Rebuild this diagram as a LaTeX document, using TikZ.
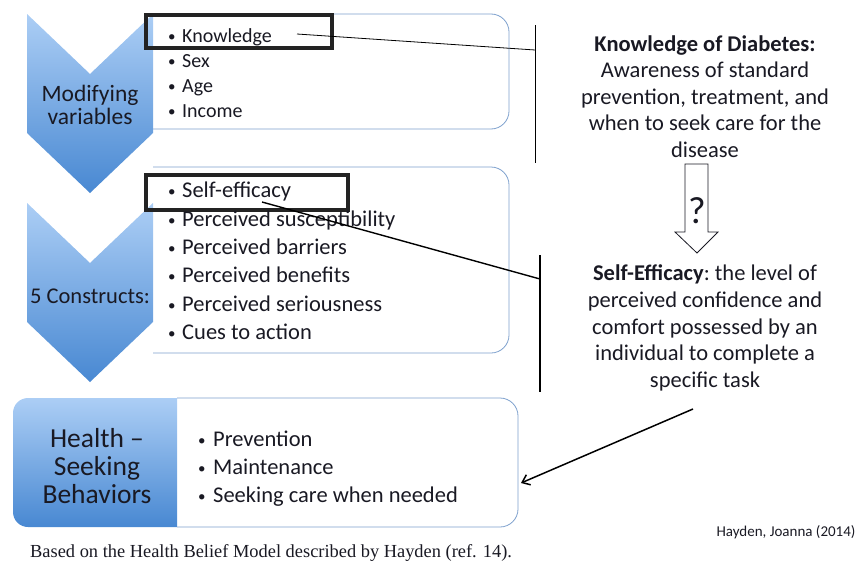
\documentclass[tikz,border=0pt]{standalone}
\usepackage{fontspec}
\setmainfont{Carlito}
\newfontfamily\capfont{Liberation Serif}
\usetikzlibrary{arrows.meta}
\definecolor{txt}{RGB}{25,25,35}
\definecolor{bord}{RGB}{125,160,205}
\definecolor{chtop}{RGB}{172,206,245}
\definecolor{chbot}{RGB}{72,136,210}
\definecolor{hl}{RGB}{35,35,35}
\newcommand{\bl}[2][14pt]{\makebox[#1][l]{\raisebox{0.5pt}{\fontsize{15}{15}\selectfont•}}#2}
\tikzset{
  boxline/.style={draw=bord, line width=0.8pt, rounded corners=18pt},
  chev/.style={top color=chtop, bottom color=chbot},
  hlbox/.style={draw=hl, line width=4pt},
  lbl/.style={anchor=base, inner sep=0, text=txt},
  itemA/.style={anchor=base west, inner sep=0, text=txt, font=\fontsize{20}{23}\selectfont},
  itemB/.style={anchor=base west, inner sep=0, text=txt, font=\fontsize{22.5}{26}\selectfont},
  rtxt/.style={anchor=base, inner sep=0, text=txt, font=\fontsize{22.5}{26}\selectfont\frenchspacing},
  conn/.style={draw=black, line width=0.9pt},
}
\begin{document}
\begin{tikzpicture}[x=1pt,y=-1pt]
\useasboundingbox (0,0) rectangle (856,562);
% boxes
\draw[boxline] (153,14) -- (509,14) -- (509,129) -- (153,129);
\draw[boxline] (153,167) -- (509,167) -- (509,353) -- (153,353);
\shade[chev, rounded corners=15pt] (177,398) -- (13,398) -- (13,527) -- (177,527);
\draw[boxline] (177,398) -- (518,398) -- (518,527) -- (177,527);
% chevrons
\shade[chev] (27,14) -- (90,74) -- (153,14) -- (153,133) -- (90,193) -- (27,133) -- cycle;
\shade[chev] (27,203) -- (90,263) -- (153,203) -- (153,322) -- (90,382) -- (27,322) -- cycle;
% highlight boxes
\draw[hlbox] (146,15) rectangle (332,48);
\draw[hlbox] (146,175) rectangle (348,210);
% chevron labels
\node[lbl, font=\fontsize{23.5}{26}\selectfont] (mod1) at (90,101) {Modifying};
\node[lbl, font=\fontsize{23.5}{26}\selectfont] (mod2) at (90,124) {variables};
\node[lbl, font=\fontsize{22.5}{26}\selectfont] (cons) at (90,303) {5 Constructs:};
\node[lbl, font=\fontsize{27.5}{32}\selectfont] (hs1) at (97,447) {Health –};
\node[lbl, font=\fontsize{27.5}{32}\selectfont] (hs2) at (97,475) {Seeking};
\node[lbl, font=\fontsize{27.5}{32}\selectfont] (hs3) at (97,503) {Behaviors};
% list 1
\node[itemA] (k) at (168,42) {\bl{Knowledge}};
\node[itemA] (s) at (168,67) {\bl{Sex}};
\node[itemA] (a) at (168,92) {\bl{Age}};
\node[itemA] (i) at (168,117) {\bl{Income}};
% list 2
\node[itemB] (se) at (168,197) {\bl{Self-efficacy}};
\node[itemB] (ps) at (168,226) {\bl{Perceived susceptibility}};
\node[itemB] (pb) at (168,254) {\bl{Perceived barriers}};
\node[itemB] (pn) at (168,282) {\bl{Perceived benefits}};
\node[itemB] (pr) at (168,311) {\bl{Perceived seriousness}};
\node[itemB] (ca) at (168,339) {\bl{Cues to action}};
% list 3
\node[itemB] (pv) at (198,446) {\bl[15pt]{Prevention}};
\node[itemB] (mt) at (198,474) {\bl[15pt]{Maintenance}};
\node[itemB] (sc) at (198,502) {\bl[15pt]{Seeking care when needed}};
% right text
\node[rtxt] (kd1) at (705,51) {\textbf{Knowledge of Diabetes:}};
\node[rtxt] (kd2) at (705,77) {Awareness of standard};
\node[rtxt] (kd3) at (705,104) {prevention, treatment, and};
\node[rtxt] (kd4) at (705,130) {when to seek care for the};
\node[rtxt] (kd5) at (705,157) {disease};
\node[rtxt] (ef1) at (705,280) {\textbf{Self-Efficacy}: the level of};
\node[rtxt] (ef2) at (705,307) {perceived confidence and};
\node[rtxt] (ef3) at (705,334) {comfort possessed by an};
\node[rtxt] (ef4) at (705,360) {individual to complete a};
\node[rtxt] (ef5) at (705,387) {specific task};
% hollow arrow
\draw[draw=txt, fill=white, line width=0.8pt] (685,164) -- (708,164) -- (708,232) -- (718,232) -- (697,253) -- (675,232) -- (685,232) -- cycle;
\node[lbl, font=\fontsize{38}{42}\selectfont] (q) at (697,223) {?};
% credits
\node[lbl, font=\fontsize{15}{17}\selectfont] (hay) at (786,536) {Hayden, Joanna (2014)};
\node[anchor=base west, inner sep=0, text=txt, font=\capfont\fontsize{18.4}{21}\selectfont] (cap) at (30,557) {Based on the Health Belief Model described by Hayden (ref. 14).};
% connectors
\coordinate (v1t) at (535,25);
\coordinate (v1b) at (535,163);
\coordinate (v1m) at (535,50);
\coordinate (k1) at (297,34);
\coordinate (v2t) at (540,255);
\coordinate (v2b) at (540,392);
\coordinate (v2m) at (540,279);
\coordinate (s1) at (262,202);
\coordinate (a1) at (693,409);
\coordinate (a2) at (521,483);
\draw[conn, line width=0.9pt] (v1t) -- (v1b);
\draw[conn, line width=0.8pt] (k1) -- (v1m);
\draw[conn, line width=1.8pt] (v2t) -- (v2b);
\draw[conn, line width=1.4pt] (s1) -- (v2m);
\draw[conn, line width=1.5pt, -{Straight Barb[length=7pt,width=11pt]}] (a1) -- (a2);
\end{tikzpicture}
\end{document}
